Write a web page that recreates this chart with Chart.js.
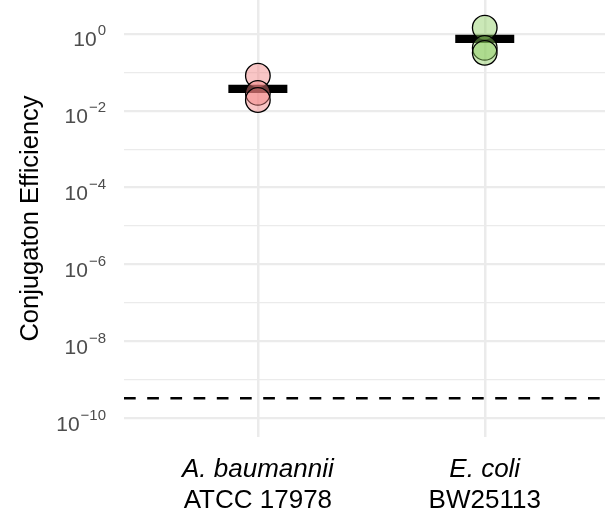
<!DOCTYPE html>
<html>
<head>
<meta charset="utf-8">
<script src="https://cdn.jsdelivr.net/npm/chart.js@4/dist/chart.umd.min.js"></script>
<style>
  html, body { margin: 0; padding: 0; background: #ffffff; }
  #c { display: block; }
</style>
</head>
<body>
<canvas id="c" width="605" height="516"></canvas>
<script>
// ---- data ----
const speciesNames = ['A. baumannii', 'E. coli'];
const strainNames = ['ATCC 17978', 'BW25113'];
const categoryPositions = [1, 2];
const abValues = [0.081, 0.029, 0.019];
const ecValues = [1.44, 0.43, 0.32];
const meanValues = [0.037, 0.74];
const detectionLimit = 3.3e-10;
const yTickExponents = [-10, -8, -6, -4, -2, 0];
const yGridExponents = [-10, -9, -8, -7, -6, -5, -4, -3, -2, -1, 0];
const yTitle = 'Conjugaton Efficiency';

const X_MIN = 0.41, X_MAX = 2.53;
const Y_MIN = Math.pow(10, -10.49), Y_MAX = Math.pow(10, 0.88);

const fontFamily = '"Liberation Sans", Arial, sans-serif';

const labelPlugin = {
  id: 'customLabels',
  afterDraw(chart) {
    const ctx = chart.ctx;
    const ys = chart.scales.y, xs = chart.scales.x;
    ctx.save();
    // y tick labels with superscript exponents
    ctx.fillStyle = '#4d4d4d';
    ctx.textBaseline = 'alphabetic';
    yTickExponents.forEach(e => {
      const py = ys.getPixelForValue(Math.pow(10, e));
      const expStr = String(e).replace('-', '\u2212');
      ctx.font = '15px ' + fontFamily;
      const ew = ctx.measureText(expStr).width;
      const right = 106;
      ctx.textAlign = 'right';
      ctx.fillText(expStr, right, py + 1.5);
      ctx.font = '21px ' + fontFamily;
      ctx.fillText('10', right - ew - 1, py + 12.5);
    });
    // x tick labels: italic species + strain
    ctx.fillStyle = '#000000';
    ctx.textAlign = 'center';
    categoryPositions.forEach((p, i) => {
      const px = xs.getPixelForValue(p);
      ctx.font = 'italic 26px ' + fontFamily;
      ctx.fillText(speciesNames[i], px, 477);
      ctx.font = '26px ' + fontFamily;
      ctx.fillText(strainNames[i], px, 508);
    });
    ctx.restore();
  }
};

const pointsData = [];
abValues.forEach(v => pointsData.push({x: categoryPositions[0], y: v}));
ecValues.forEach(v => pointsData.push({x: categoryPositions[1], y: v}));
const pointColors = abValues.map(() => 'rgba(242,128,128,0.45)')
  .concat(ecValues.map(() => 'rgba(140,205,95,0.45)'));

new Chart(document.getElementById('c'), {
  type: 'scatter',
  data: {
    datasets: [
      {
        label: 'points',
        data: pointsData,
        backgroundColor: pointColors,
        borderColor: '#000000',
        borderWidth: 1.3,
        pointRadius: 12.3,
        pointHoverRadius: 12.3,
        clip: false,
        order: 0
      },
      {
        label: 'mean',
        data: meanValues.map((m, i) => ({x: categoryPositions[i], y: m})),
        pointStyle: 'line',
        pointRadius: 29.5,
        pointHoverRadius: 29.5,
        borderColor: '#000000',
        borderWidth: 8.3,
        clip: false,
        order: 1
      },
      {
        label: 'limit',
        type: 'line',
        data: [{x: X_MIN, y: detectionLimit}, {x: X_MAX, y: detectionLimit}],
        borderColor: '#000000',
        borderWidth: 2.7,
        borderDash: [11.7, 11.5],
        pointRadius: 0,
        fill: false,
        order: 2
      }
    ]
  },
  options: {
    responsive: false,
    animation: false,
    devicePixelRatio: 1,
    layout: { padding: 0, autoPadding: false },
    plugins: {
      legend: { display: false },
      tooltip: { enabled: false },
      title: { display: false }
    },
    scales: {
      x: {
        type: 'linear',
        min: X_MIN,
        max: X_MAX,
        afterBuildTicks(s) { s.ticks = categoryPositions.map(v => ({value: v})); },
        afterFit(s) { s.height = 79; },
        ticks: { display: false },
        grid: { color: '#ebebeb', lineWidth: 2.5, drawTicks: false },
        border: { display: false }
      },
      y: {
        type: 'logarithmic',
        min: Y_MIN,
        max: Y_MAX,
        afterBuildTicks(s) { s.ticks = yGridExponents.map(e => ({value: Math.pow(10, e)})); },
        afterFit(s) { s.width = 124; },
        ticks: { display: false },
        grid: {
          color: '#ebebeb',
          lineWidth: ctx => {
            const e = Math.round(Math.log10(ctx.tick.value));
            return (e % 2 === 0) ? 2.2 : 1.2;
          },
          drawTicks: false
        },
        border: { display: false },
        title: {
          display: true,
          text: yTitle,
          color: '#000000',
          font: { size: 25.5, family: fontFamily },
          padding: { top: 16, bottom: 0 }
        }
      }
    }
  },
  plugins: [labelPlugin]
});
</script>
</body>
</html>
